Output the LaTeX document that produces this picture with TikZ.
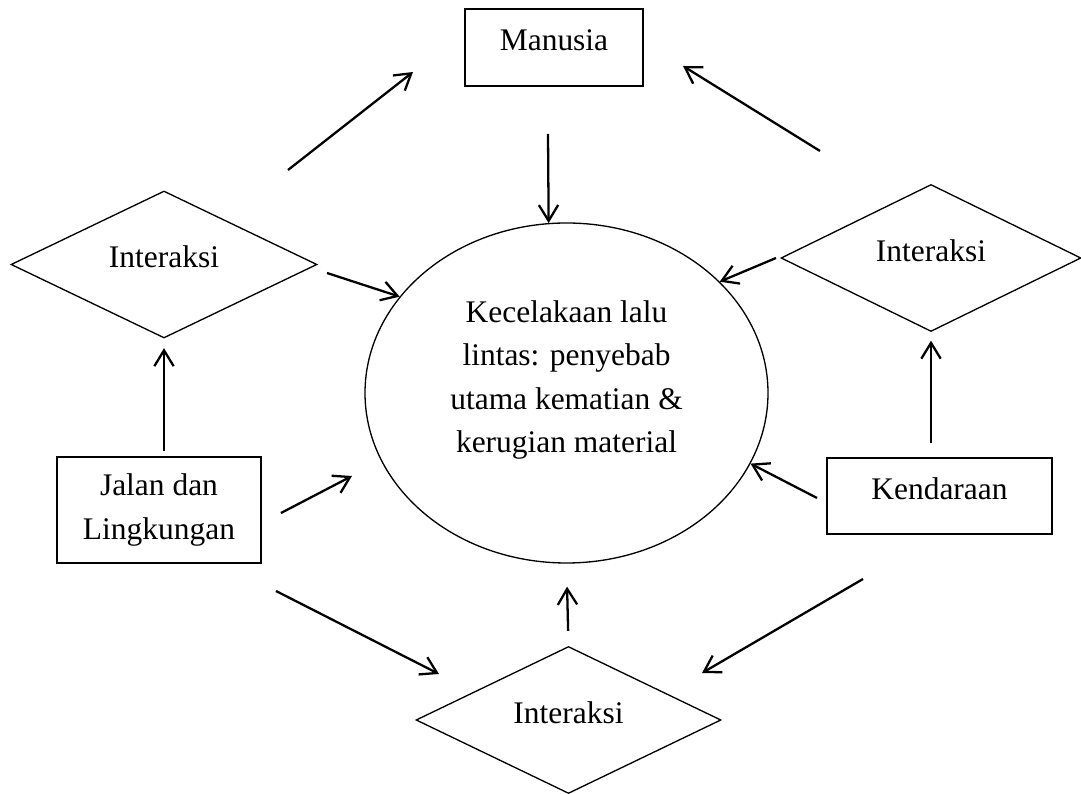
\documentclass[tikz,border=0pt]{standalone}
\usepackage{fontspec}
\setmainfont{Liberation Serif}
\usetikzlibrary{shapes.geometric,arrows.meta}

\tikzset{
	box/.style={draw, line width=0.75pt, rectangle},
	oneline/.style={text height=0.43cm, text depth=0.3cm},
	rhomb/.style={draw, line width=0.75pt, diamond, aspect=2, inner sep=0pt, minimum height=2.94cm, oneline},
	oval/.style={draw, line width=0.75pt, ellipse, minimum width=8.06cm, minimum height=6.8cm},
	arr/.style={line width=1.3pt, -{Straight Barb[length=9pt,width=11pt]}}
}

\begin{document}
\begin{tikzpicture}[font=\fontsize{17.9}{24.5}\selectfont]
			\useasboundingbox (0,0) rectangle (21.62,15.88);
			\node[box, oneline, minimum width=3.56cm, minimum height=1.54cm] (manusia) at (11.08,14.93) {Manusia};
			\node[oval] (celaka) at (11.33,8.02) {};
			\node[align=center] (celakatext) at ([yshift=0.26cm]celaka.center) {Kecelakaan lalu\\lintas: penyebab\\utama kematian \&\\kerugian material};
			\node[rhomb, minimum width=6.12cm] (ldia) at (3.28,10.59) {Interaksi};
			\node[rhomb, minimum width=6cm] (rdia) at (18.62,10.72) {Interaksi};
			\node[rhomb, minimum width=6.1cm] (bdia) at (11.37,1.48) {Interaksi};
			\node[box, align=center, minimum width=4.08cm, minimum height=2.12cm] (jalan) at (3.18,5.68) {Jalan dan\\Lingkungan};
			\node[box, oneline, minimum width=4.5cm, minimum height=1.52cm] (kend) at (18.79,5.96) {Kendaraan};
			\coordinate (ld1) at (5.76,12.48);
			\coordinate (ld2) at (8.26,14.44);
			\coordinate (rd1) at (16.4,12.86);
			\coordinate (rd2) at (13.66,14.56);
			\coordinate (mn1) at (10.96,13.2);
			\coordinate (ld3) at (6.54,10.42);
			\coordinate (rd3) at (15.52,10.72);
			\coordinate (jl1) at (5.62,5.62);
			\coordinate (jl2) at (7.04,6.36);
			\coordinate (kd1) at (16.34,5.92);
			\coordinate (jl3) at (5.52,4.06);
			\coordinate (jl4) at (8.78,2.4);
			\coordinate (kd2) at (17.26,4.3);
			\coordinate (kd3) at (14.04,2.42);
			\draw[arr] (ld1) -- (ld2);
			\draw[arr] (rd1) -- (rd2);
			\draw[arr] (mn1) -- (celaka.96);
			\draw[arr] (ld3) -- (celaka.150);
			\draw[arr] (rd3) -- (celaka.36);
			\draw[arr] (jl1) -- (jl2);
			\draw[arr] (kd1) -- (celaka.339);
			\draw[arr] (jl3) -- (jl4);
			\draw[arr] (kd2) -- (kd3);
			\draw[arr, shorten <=0.1cm, shorten >=0.19cm] (jalan.north -| ldia.south) -- (ldia.south);
			\draw[arr, shorten <=0.28cm, shorten >=0.17cm] (kend.north -| rdia.south) -- (rdia.south);
			\draw[arr, shorten <=0.3cm, shorten >=0.46cm] (bdia.north) -- (celaka.south);
		\end{tikzpicture}
\end{document}
